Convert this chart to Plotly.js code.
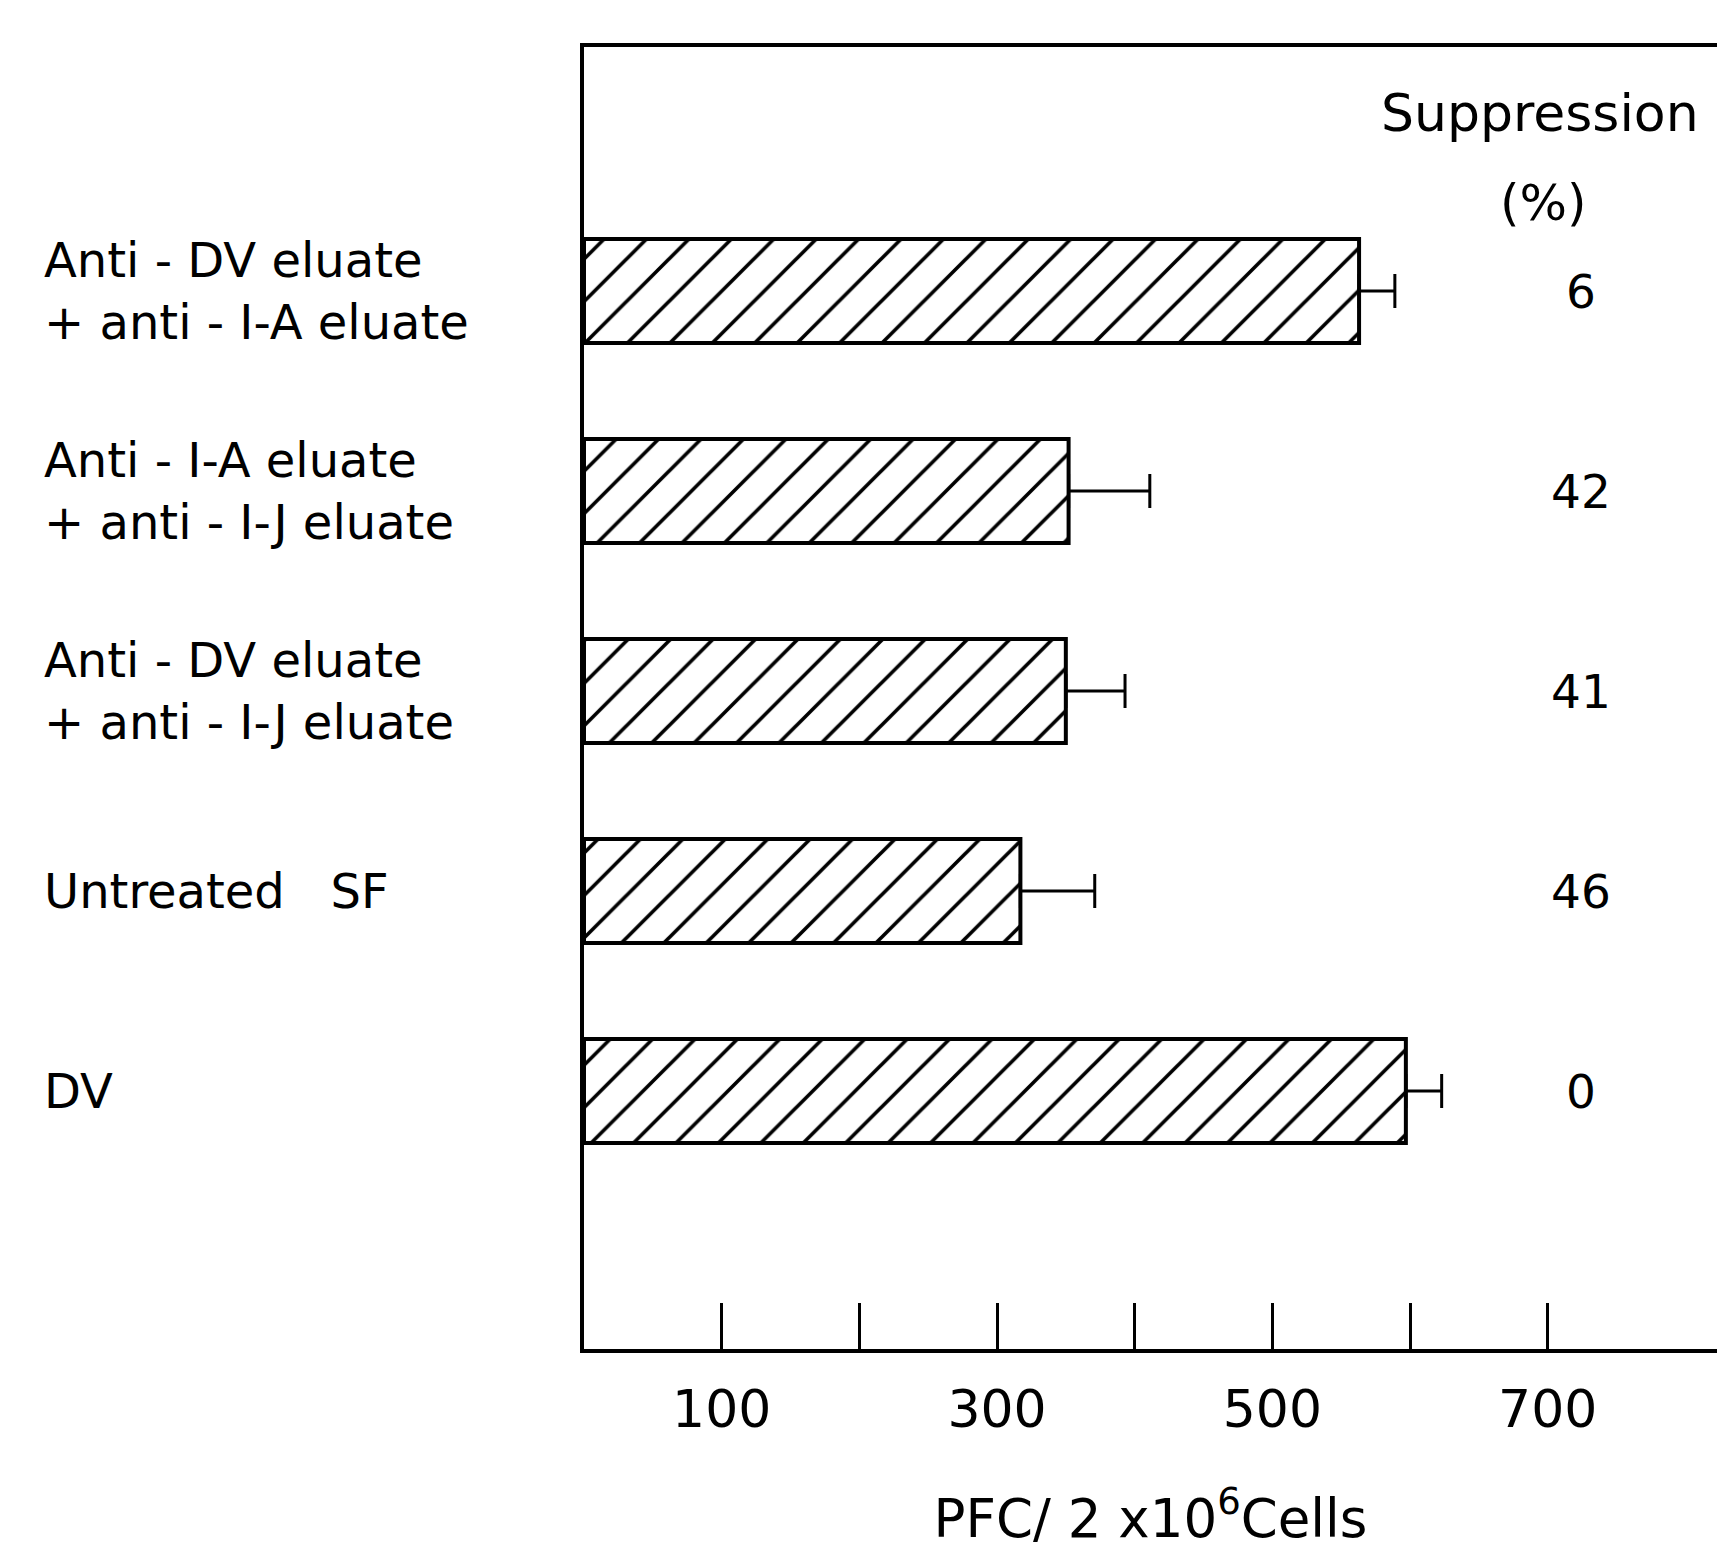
<!DOCTYPE html>
<html>
<head>
<meta charset="utf-8">
<script src="https://cdn.plot.ly/plotly-3.0.1.min.js"></script>
<style>html,body{margin:0;padding:0;background:#fff;}#chart{width:1717px;height:1551px;}</style>
</head>
<body>
<div id="chart"></div>
<script>
// Data (top to bottom)
const categories = [
  "Anti - DV eluate<br>+ anti - I-A eluate",
  "Anti - I-A eluate<br>+ anti - I-J eluate",
  "Anti - DV eluate<br>+ anti - I-J eluate",
  "Untreated&nbsp;&nbsp;&nbsp;SF",
  "DV"
];
const pfc = [563, 352, 350, 317, 597];
const pfcError = [26, 59, 43, 54, 26];
const suppression = [6, 42, 41, 46, 0];
const majorTicks = [100, 300, 500, 700];
const majorTickLabels = ["100", "300", "500", "700"];
const minorTicks = [200, 400, 600];

const FONT = "DejaVu Sans, Liberation Sans, sans-serif";
const idx = categories.map((c, i) => i);

const trace = {
  type: "bar",
  orientation: "h",
  x: pfc,
  y: idx,
  width: 0.52,
  marker: {
    color: "white",
    line: {color: "black", width: 4},
    pattern: {shape: "/", fgcolor: "black", fgopacity: 1, bgcolor: "white", size: 30, solidity: 0.12, fillmode: "overlay"}
  },
  error_x: {
    type: "data",
    symmetric: false,
    array: pfcError,
    arrayminus: pfcError.map(() => 0),
    color: "black",
    thickness: 3,
    width: 17
  },
  hoverinfo: "skip"
};

const annotations = [];
categories.forEach((c, i) => {
  annotations.push({
    xref: "paper", yref: "y", x: -0.478, y: i,
    xanchor: "left", yanchor: "middle", align: "left",
    text: c, showarrow: false,
    font: {family: FONT, size: 48, color: "black"}
  });
  annotations.push({
    xref: "paper", yref: "y", x: 0.88, y: i,
    xanchor: "center", yanchor: "middle",
    text: String(suppression[i]), showarrow: false,
    font: {family: FONT, size: 47, color: "black"}
  });
});
annotations.push({
  xref: "paper", yref: "paper", x: 0.844, y: 0.949,
  xanchor: "center", yanchor: "middle",
  text: "Suppression", showarrow: false,
  font: {family: FONT, size: 52, color: "black"}
});
annotations.push({
  xref: "paper", yref: "paper", x: 0.847, y: 0.880,
  xanchor: "center", yanchor: "middle",
  text: "(%)", showarrow: false,
  font: {family: FONT, size: 50, color: "black"}
});

const layout = {
  width: 1717,
  height: 1551,
  margin: {l: 584, r: 0, t: 47, b: 202},
  paper_bgcolor: "white",
  plot_bgcolor: "white",
  showlegend: false,
  font: {family: FONT, color: "black"},
  xaxis: {
    range: [0, 823],
    showgrid: false,
    zeroline: false,
    showline: true,
    linecolor: "black",
    linewidth: 4,
    mirror: true,
    ticks: "inside",
    ticklen: 46,
    tickwidth: 3,
    tickcolor: "black",
    tickvals: majorTicks,
    ticktext: majorTickLabels,
    ticklabelstandoff: 12,
    tickfont: {family: FONT, size: 52, color: "black"},
    minor: {
      tickvals: minorTicks,
      ticks: "inside",
      ticklen: 46,
      tickwidth: 3,
      tickcolor: "black",
      showgrid: false
    },
    title: {
      text: "PFC/ 2 x10<sup>6</sup>Cells",
      font: {family: FONT, size: 53, color: "black"},
      standoff: 62
    }
  },
  yaxis: {
    range: [5.29, -1.22],
    showgrid: false,
    zeroline: false,
    showline: true,
    linecolor: "black",
    linewidth: 4,
    mirror: false,
    ticks: "",
    showticklabels: false
  },
  annotations: annotations
};

Plotly.newPlot("chart", [trace], layout, {displayModeBar: false, staticPlot: true});
</script>
</body>
</html>
